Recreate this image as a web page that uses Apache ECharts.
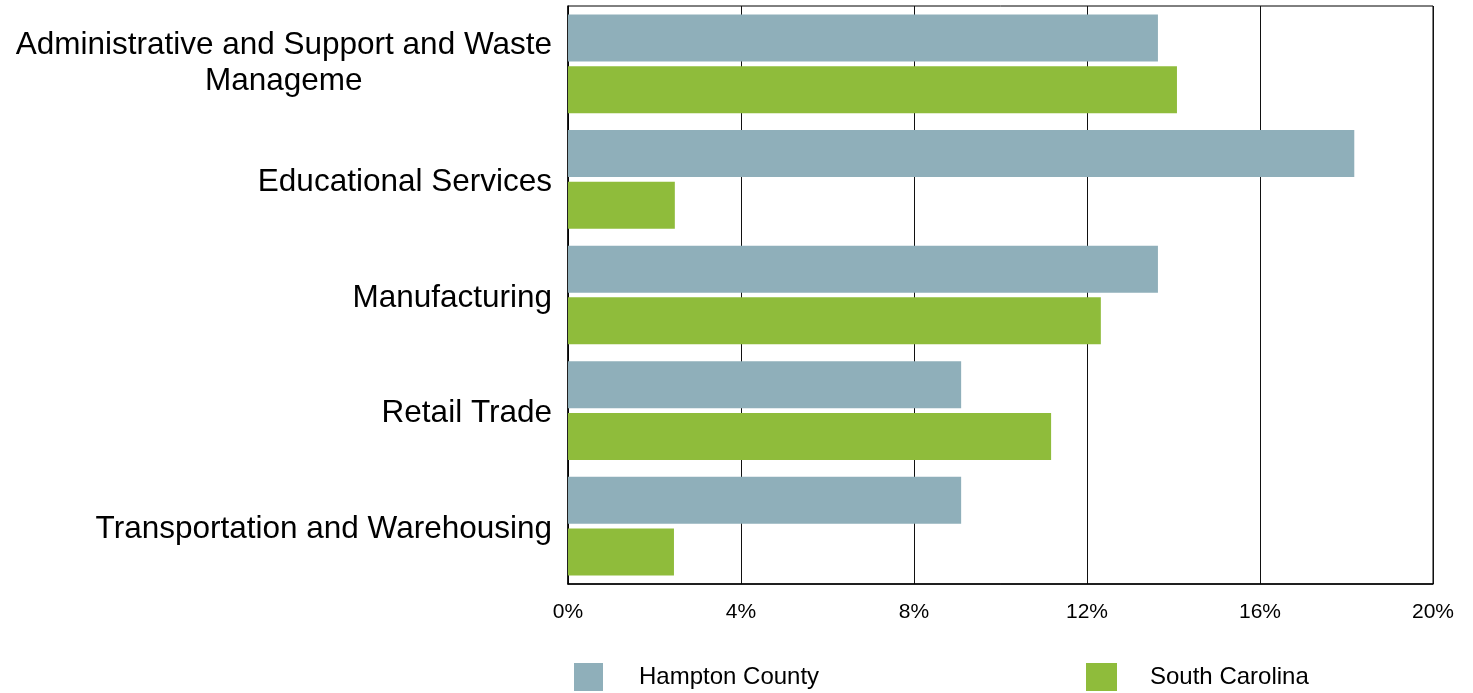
<!DOCTYPE html>
<html>
<head>
<meta charset="utf-8">
<style>
  html, body { margin: 0; padding: 0; background: #ffffff; }
  #chart { width: 1473px; height: 693px; }
</style>
<script src="https://cdn.jsdelivr.net/npm/echarts@6/dist/echarts.min.js"></script>
</head>
<body>
<div id="chart"></div>
<script>
const categories = [
  'Administrative and Support and Waste Manageme',
  'Educational Services',
  'Manufacturing',
  'Retail Trade',
  'Transportation and Warehousing'
];
const hamptonCounty = [13.64, 18.18, 13.64, 9.09, 9.09];
const southCarolina = [14.08, 2.47, 12.32, 11.17, 2.45];
const xTicks = [0, 4, 8, 12, 16, 20];
const seriesNames = ['Hampton County', 'South Carolina'];

const chart = echarts.init(document.getElementById('chart'), null, { renderer: 'canvas' });

const FONT = '"Liberation Sans", Arial, Helvetica, sans-serif';

function wrapLabel(s) {
  if (s === 'Administrative and Support and Waste Manageme') {
    return '{d|Administrative and Support and Waste}\n{d|Manageme}';
  }
  return '{c|' + s + '}';
}

const option = {
  animation: false,
  backgroundColor: '#ffffff',
  grid: {
    left: 568,
    right: 40,
    top: 6,
    bottom: 109,
    show: true,
    borderColor: '#000000',
    borderWidth: 1,
    containLabel: false
  },
  legend: [
    {
      data: [seriesNames[0]],
      left: 574,
      top: 663,
      padding: 0,
      itemWidth: 29,
      itemHeight: 28,
      icon: 'rect',
      textStyle: { fontFamily: FONT, fontSize: 24, color: '#000', padding: [0, 0, 0, 31] }
    },
    {
      data: [seriesNames[1]],
      left: 1086,
      top: 663,
      padding: 0,
      itemWidth: 31,
      itemHeight: 28,
      icon: 'rect',
      textStyle: { fontFamily: FONT, fontSize: 24, color: '#000', padding: [0, 0, 0, 28] }
    }
  ],
  xAxis: {
    type: 'value',
    min: xTicks[0],
    max: xTicks[xTicks.length - 1],
    interval: 4,
    axisLine: { show: true, lineStyle: { color: '#000', width: 1.5 } },
    axisTick: { show: false },
    splitLine: { show: true, lineStyle: { color: '#111', width: 1 } },
    axisLabel: {
      fontFamily: FONT,
      fontSize: 21,
      color: '#000',
      margin: 18,
      formatter: function (v) { return v + '%'; }
    }
  },
  yAxis: {
    type: 'category',
    data: categories,
    inverse: true,
    axisLine: { show: true, lineStyle: { color: '#000', width: 1.5 } },
    axisTick: { show: false },
    splitLine: { show: false },
    axisLabel: {
      margin: 16,
      align: 'right',
      formatter: wrapLabel,
      rich: {
        c: { fontFamily: FONT, fontSize: 31.5, color: '#000', align: 'center', lineHeight: 29, padding: [6, 0, 0, 0] },
        d: { fontFamily: FONT, fontSize: 31.5, color: '#000', align: 'center', lineHeight: 36 }
      }
    }
  },
  series: [
    {
      name: seriesNames[0],
      type: 'bar',
      data: hamptonCounty,
      barWidth: 47,
      barGap: '10%',
      itemStyle: { color: '#8FAFBA' }
    },
    {
      name: seriesNames[1],
      type: 'bar',
      data: southCarolina,
      barWidth: 47,
      barGap: '10%',
      itemStyle: { color: '#8FBC3B' }
    }
  ]
};

chart.setOption(option);
</script>
</body>
</html>
